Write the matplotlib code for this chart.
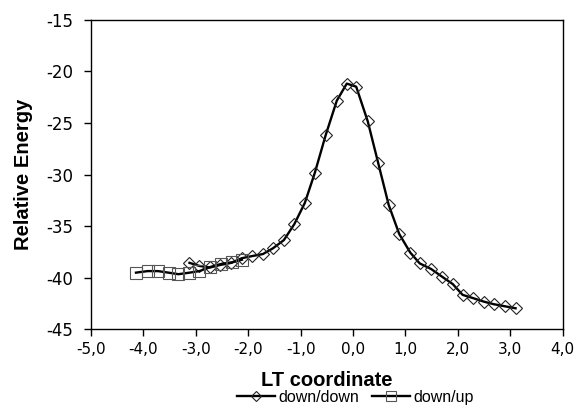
import matplotlib
matplotlib.use("Agg")
import matplotlib.pyplot as plt
from matplotlib.ticker import MultipleLocator, FuncFormatter

# down/down scan
dd_x = [-3.12, -2.93, -2.73, -2.53, -2.32, -2.12, -1.93, -1.72, -1.53, -1.32,
        -1.12, -0.92, -0.73, -0.52, -0.31, -0.12, 0.06, 0.28, 0.48, 0.68,
        0.88, 1.09, 1.27, 1.49, 1.70, 1.90, 2.09, 2.28, 2.49, 2.68, 2.89, 3.10]
dd_y = [-38.55, -38.85, -39.0, -38.75, -38.55, -38.1, -37.9, -37.7, -37.15, -36.35,
        -34.8, -32.75, -29.85, -26.15, -22.85, -21.2, -21.5, -24.85, -28.9, -32.95,
        -35.75, -37.55, -38.6, -39.15, -39.9, -40.6, -41.65, -41.95, -42.3, -42.55, -42.75, -42.95]

# down/up scan
du_x = [-4.14, -3.92, -3.72, -3.52, -3.33, -3.12, -2.93, -2.72, -2.51, -2.31, -2.12]
du_y = [-39.5, -39.35, -39.35, -39.5, -39.65, -39.5, -39.35, -38.95, -38.65, -38.5, -38.25]

fig = plt.figure(figsize=(5.79, 4.16), dpi=100)
ax = fig.add_axes([0.157, 0.208, 0.815, 0.745])

ax.plot(dd_x, dd_y, color='black', lw=1.7, marker='D', ms=6.2,
        mfc='none', mec='#222222', mew=0.8, label='down/down')
ax.plot(du_x, du_y, color='black', lw=1.7, marker='s', ms=8,
        mfc='none', mec='#555555', mew=0.8, label='down/up')

ax.set_xlim(-5, 4)
ax.set_ylim(-45, -15)
ax.xaxis.set_major_locator(MultipleLocator(1))
ax.yaxis.set_major_locator(MultipleLocator(5))
ax.xaxis.set_major_formatter(FuncFormatter(lambda v, p: f"{v:.1f}".replace('.', ',')))
ax.yaxis.set_major_formatter(FuncFormatter(lambda v, p: f"{v:.0f}"))
ax.tick_params(direction='out', length=5, width=1, labelsize=11, pad=4)
ax.tick_params(axis='y', labelsize=12, pad=8)
for s in ax.spines.values():
    s.set_linewidth(1)

ax.set_xlabel('LT coordinate', fontsize=14.5, fontweight='bold',
              family='Liberation Sans', labelpad=10)
ax.set_ylabel('Relative Energy', fontsize=14.5, fontweight='bold',
              family='Liberation Sans', labelpad=9)

leg = ax.legend(loc='upper center', bbox_to_anchor=(0.56, -0.148), ncol=2,
                frameon=False, prop={'family': 'Liberation Sans', 'size': 11.5},
                handlelength=2.4, handletextpad=0.2, columnspacing=0.8,
                markerscale=0.85)

fig.savefig('out.png', dpi=100)
